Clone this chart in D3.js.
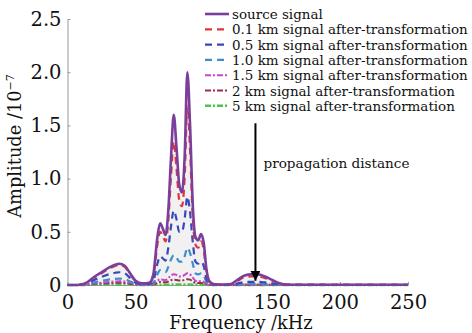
<!DOCTYPE html>
<html>
<head>
<meta charset="utf-8">
<script src="https://cdn.jsdelivr.net/npm/d3@7"></script>
<style>
  body { margin: 0; background: #fff; }
  text { font-family: "DejaVu Serif", serif; fill: #111; }
</style>
</head>
<body>
<div id="chart"></div>
<script>
const width = 472;
const height = 333;

// frequency samples (kHz)
const freq = [0, 5, 10, 15, 20, 25, 30, 35, 38, 42, 46, 50, 55, 60, 63, 66, 68, 70, 72, 74, 76, 78, 80, 82, 84, 86, 88, 90, 92, 94, 96, 98, 100, 102, 104, 107, 110, 115, 120, 125, 130, 135, 140, 145, 150, 155, 160, 170, 200, 250];

// amplitudes (x1e-7)
const source = [0, 0, 0.005, 0.03, 0.08, 0.12, 0.16, 0.19, 0.2, 0.18, 0.11, 0.04, 0.015, 0.02, 0.1, 0.45, 0.58, 0.53, 0.47, 0.7, 1.2, 1.6, 1.3, 0.95, 0.87, 1.2, 2.0, 1.5, 0.75, 0.45, 0.42, 0.48, 0.4, 0.15, 0.04, 0.01, 0.005, 0.005, 0.01, 0.05, 0.09, 0.1, 0.1, 0.08, 0.05, 0.02, 0.005, 0.003, 0.002, 0.002];
const km01 = [0, 0, 0.004, 0.028, 0.075, 0.11, 0.15, 0.18, 0.19, 0.17, 0.1, 0.035, 0.012, 0.017, 0.08, 0.38, 0.5, 0.46, 0.41, 0.6, 1.02, 1.35, 1.1, 0.8, 0.74, 1.0, 1.68, 1.26, 0.63, 0.38, 0.35, 0.41, 0.33, 0.12, 0.03, 0.008, 0.004, 0.004, 0.008, 0.04, 0.075, 0.08, 0.08, 0.065, 0.04, 0.016, 0.004, 0.002, 0.002, 0.002];
const km05 = [0, 0, 0.003, 0.02, 0.05, 0.075, 0.1, 0.115, 0.12, 0.11, 0.065, 0.022, 0.008, 0.01, 0.04, 0.2, 0.27, 0.25, 0.23, 0.35, 0.55, 0.7, 0.62, 0.5, 0.5, 0.62, 0.83, 0.68, 0.4, 0.22, 0.2, 0.22, 0.18, 0.06, 0.015, 0.004, 0.002, 0.002, 0.004, 0.015, 0.028, 0.03, 0.03, 0.024, 0.015, 0.006, 0.002, 0.001, 0.001, 0.001];
const km10 = [0, 0, 0.002, 0.01, 0.025, 0.038, 0.05, 0.058, 0.06, 0.055, 0.033, 0.011, 0.004, 0.005, 0.02, 0.1, 0.14, 0.13, 0.12, 0.17, 0.24, 0.28, 0.26, 0.22, 0.22, 0.27, 0.35, 0.3, 0.2, 0.11, 0.1, 0.11, 0.09, 0.03, 0.008, 0.002, 0.001, 0.001, 0.002, 0.006, 0.01, 0.012, 0.012, 0.01, 0.006, 0.002, 0.001, 0.001, 0, 0];
const km15 = [0, 0, 0.001, 0.006, 0.014, 0.022, 0.028, 0.033, 0.035, 0.032, 0.02, 0.007, 0.002, 0.003, 0.01, 0.04, 0.055, 0.05, 0.048, 0.065, 0.09, 0.1, 0.095, 0.08, 0.08, 0.095, 0.11, 0.1, 0.07, 0.04, 0.035, 0.038, 0.03, 0.01, 0.003, 0.001, 0, 0, 0.001, 0.002, 0.004, 0.005, 0.005, 0.004, 0.002, 0.001, 0, 0, 0, 0];
const km2 = [0, 0, 0.001, 0.004, 0.009, 0.013, 0.017, 0.02, 0.021, 0.019, 0.012, 0.004, 0.001, 0.002, 0.006, 0.02, 0.028, 0.026, 0.025, 0.033, 0.045, 0.05, 0.048, 0.042, 0.042, 0.048, 0.055, 0.05, 0.035, 0.02, 0.018, 0.019, 0.015, 0.005, 0.002, 0, 0, 0, 0, 0.001, 0.002, 0.002, 0.002, 0.002, 0.001, 0, 0, 0, 0, 0];
const km5 = [0, 0, 0, 0.001, 0.002, 0.003, 0.004, 0.004, 0.004, 0.004, 0.003, 0.001, 0, 0, 0.001, 0.002, 0.003, 0.003, 0.003, 0.003, 0.004, 0.004, 0.004, 0.004, 0.004, 0.004, 0.004, 0.004, 0.003, 0.002, 0.002, 0.002, 0.002, 0.001, 0, 0, 0, 0, 0, 0, 0, 0, 0, 0, 0, 0, 0, 0, 0, 0];

const xTicks = [0, 50, 100, 150, 200, 250];
const yTicks = [0, 0.5, 1.0, 1.5, 2.0, 2.5];
const yTickLabels = ["0", "0.5", "1.0", "1.5", "2.0", "2.5"];

const legendLabels = [
  "source signal",
  "0.1 km signal after-transformation",
  "0.5 km signal after-transformation",
  "1.0 km signal after-transformation",
  "1.5 km signal after-transformation",
  "2 km signal after-transformation",
  "5 km signal after-transformation"
];

const series = [
  { values: source, color: "#7a3f9d", dash: null, w: 2.6 },
  { values: km01, color: "#e0363a", dash: "7,5", w: 2.2 },
  { values: km05, color: "#3848b8", dash: "7,5", w: 2.2 },
  { values: km10, color: "#3f8ccc", dash: "7,5", w: 2.2 },
  { values: km15, color: "#c646cc", dash: "6,2,2,2", w: 2 },
  { values: km2, color: "#9a2e4e", dash: "6,2,2,2", w: 2 },
  { values: km5, color: "#4cc44a", dash: "6,2,2,2", w: 2.4 }
];

const svg = d3.select("#chart")
  .append("svg")
  .attr("width", width)
  .attr("height", height);

const x = d3.scaleLinear().domain([0, 250]).range([67.5, 408]);
const y = d3.scaleLinear().domain([0, 2.5]).range([285, 19]);

// light fill under the source curve
const area = d3.area()
  .x((d, i) => x(freq[i]))
  .y0(y(0))
  .y1(d => y(d))
  .curve(d3.curveMonotoneX);

svg.append("path")
  .datum(source)
  .attr("fill", "#f1f1f1")
  .attr("d", area);

// axes
const yAxis = d3.axisLeft(y)
  .tickValues(yTicks)
  .tickSize(-3)
  .tickSizeOuter(0)
  .tickPadding(6)
  .tickFormat((d, i) => yTickLabels[i]);

const gy = svg.append("g")
  .attr("transform", `translate(${x(0)},0)`)
  .call(yAxis);
gy.select(".domain").attr("stroke", "#999");
gy.selectAll(".tick line").attr("stroke", "#999");
gy.selectAll("text")
  .style("font-family", "DejaVu Serif")
  .style("font-size", "19.5px")
  .attr("fill", "#111");

const xAxis = d3.axisBottom(x)
  .tickValues(xTicks)
  .tickSize(-3)
  .tickSizeOuter(0)
  .tickPadding(10);

const gx = svg.append("g")
  .attr("transform", `translate(0,${y(0)})`)
  .call(xAxis);
gx.select(".domain").attr("stroke", "#999");
gx.selectAll(".tick line").attr("stroke", "#999");
gx.selectAll("text")
  .style("font-family", "DejaVu Serif")
  .style("font-size", "19.5px")
  .attr("fill", "#111");

// lines, drawn bottom series first so the source sits on top
const line = d3.line()
  .x((d, i) => x(freq[i]))
  .y(d => y(d))
  .curve(d3.curveMonotoneX);

series.slice().reverse().forEach(s => {
  svg.append("path")
    .datum(s.values)
    .attr("fill", "none")
    .attr("stroke", s.color)
    .attr("stroke-width", s.w)
    .attr("stroke-dasharray", s.dash)
    .attr("d", line);
});

// axis titles
svg.append("text")
  .attr("x", 241)
  .attr("y", 329)
  .attr("text-anchor", "middle")
  .style("font-size", "17.8px")
  .text("Frequency /kHz");

const yTitle = svg.append("text")
  .attr("transform", "translate(21,146) rotate(-90)")
  .attr("text-anchor", "middle")
  .style("font-size", "17.8px");
yTitle.append("tspan").text("Amplitude /10");
yTitle.append("tspan")
  .attr("dy", -7)
  .style("font-size", "11px")
  .text("−7");

// propagation arrow
svg.append("defs")
  .append("marker")
  .attr("id", "arrow")
  .attr("viewBox", "0 -5 10 10")
  .attr("refX", 10)
  .attr("refY", 0)
  .attr("markerWidth", 5)
  .attr("markerHeight", 5)
  .attr("markerUnits", "strokeWidth")
  .attr("orient", "auto")
  .append("path")
  .attr("d", "M0,-5L10,0L0,5Z")
  .attr("fill", "#000");

svg.append("line")
  .attr("x1", x(138)).attr("x2", x(138))
  .attr("y1", y(1.52)).attr("y2", y(0.04))
  .attr("stroke", "#000")
  .attr("stroke-width", 2)
  .attr("marker-end", "url(#arrow)");

svg.append("text")
  .attr("x", x(138) + 8)
  .attr("y", 168)
  .style("font-size", "13.6px")
  .text("propagation distance");

// legend
const legend = svg.append("g");
const legendTexts = [];
legendLabels.forEach((lab, i) => {
  const s = series[i];
  const ly = 14 + i * 15.3;
  legend.append("line")
    .attr("x1", 205).attr("x2", 229)
    .attr("y1", ly).attr("y2", ly)
    .attr("stroke", s.color)
    .attr("stroke-width", s.w)
    .attr("stroke-dasharray", s.dash);
  legendTexts.push(legend.append("text")
    .attr("x", 232)
    .attr("y", ly + 5)
    .style("font-size", "13px")
    .text(lab));
});

// shrink legend font so the longest label ends just inside the frame
const longest = d3.max(legendTexts, t => t.node().getComputedTextLength());
const fs = Math.min(14.3, 13 * 236 / longest);
legendTexts.forEach(t => t.style("font-size", fs + "px"));
</script>
</body>
</html>
